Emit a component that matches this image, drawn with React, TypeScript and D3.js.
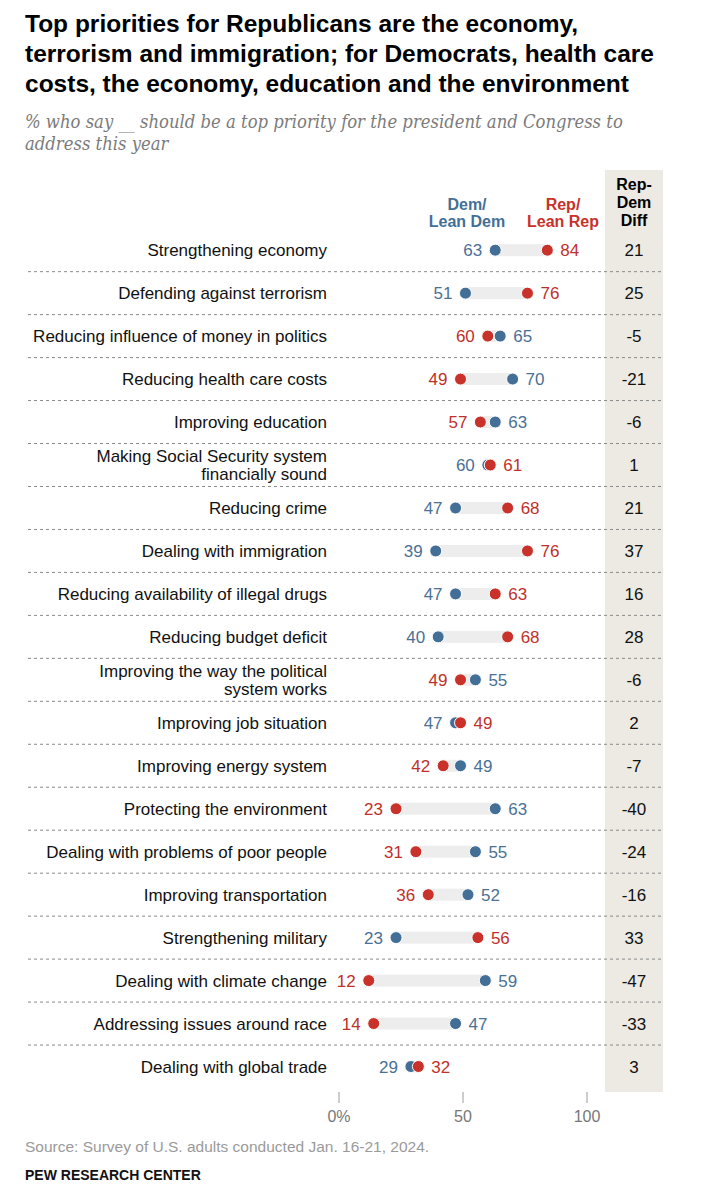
import React from "react";
import * as d3 from "d3";

const categories: string[][] = [
  ["Strengthening economy"],
  ["Defending against terrorism"],
  ["Reducing influence of money in politics"],
  ["Reducing health care costs"],
  ["Improving education"],
  ["Making Social Security system", "financially sound"],
  ["Reducing crime"],
  ["Dealing with immigration"],
  ["Reducing availability of illegal drugs"],
  ["Reducing budget deficit"],
  ["Improving the way the political", "system works"],
  ["Improving job situation"],
  ["Improving energy system"],
  ["Protecting the environment"],
  ["Dealing with problems of poor people"],
  ["Improving transportation"],
  ["Strengthening military"],
  ["Dealing with climate change"],
  ["Addressing issues around race"],
  ["Dealing with global trade"],
];
const demValues = [63, 51, 65, 70, 63, 60, 47, 39, 47, 40, 55, 47, 49, 63, 55, 52, 23, 59, 47, 29];
const repValues = [84, 76, 60, 49, 57, 61, 68, 76, 63, 68, 49, 49, 42, 23, 31, 36, 56, 12, 14, 32];
const diffValues = [21, 25, -5, -21, -6, 1, 21, 37, 16, 28, -6, 2, -7, -40, -24, -16, 33, -47, -33, 3];
const tickValues = [0, 50, 100];

const titleLines = [
  "Top priorities for Republicans are the economy,",
  "terrorism and immigration; for Democrats, health care",
  "costs, the economy, education and the environment",
];
const subtitleLines = [
  "% who say __ should be a top priority for the president and Congress to",
  "address this year",
];

const DEM = "#436f97";
const REP = "#c8322a";
const DEM_TXT = "#4a7196";
const REP_TXT = "#c0302a";
const SANS = "'Liberation Sans', Arial, sans-serif";

export default function App() {
  const W = 704;
  const H = 1200;
  const x = d3.scaleLinear().domain([0, 100]).range([339, 587]);
  const idx = categories.map((_, i) => String(i));
  const y = d3.scaleBand<string>().domain(idx).range([228.7, 1088]).padding(0);
  const bw = y.bandwidth();
  const r = 6;
  const labelGap = 13;

  return (
    <div style={{ position: "absolute", left: 0, top: 0 }}>
      <svg width={W} height={H} style={{ display: "block", background: "#fff" }}>
        {/* title */}
        <g fontFamily={SANS} fontWeight="bold" fontSize={24.5} fill="#000">
          {titleLines.map((t, i) => (
            <text key={i} x={25} y={32 + i * 30}>{t}</text>
          ))}
        </g>
        <g fontFamily="'DejaVu Serif Condensed', 'DejaVu Serif', serif" fontStyle="italic" fontSize={18.3} fill="#7b7b7b">
          {subtitleLines.map((t, i) => (
            <text key={i} x={25} y={128 + i * 22}>{t}</text>
          ))}
        </g>

        {/* diff column background */}
        <rect x={605} y={170} width={58} height={922} fill="#eceae2" />

        {/* headers */}
        <g fontFamily={SANS} fontWeight="bold" fontSize={16} textAnchor="middle">
          <text x={467} y={210} fill={DEM}>Dem/</text>
          <text x={467} y={227} fill={DEM}>Lean Dem</text>
          <text x={563} y={210} fill={REP}>Rep/</text>
          <text x={563} y={227} fill={REP}>Lean Rep</text>
          <text x={634} y={190} fill="#000">Rep-</text>
          <text x={634} y={208} fill="#000">Dem</text>
          <text x={634} y={226} fill="#000">Diff</text>
        </g>

        {/* separators */}
        {idx.slice(1).map((k) => (
          <line
            key={"sep" + k}
            x1={28}
            x2={663}
            y1={y(k)!}
            y2={y(k)!}
            stroke="#8a8a8a"
            strokeWidth={1}
            strokeDasharray="3,3"
          />
        ))}

        {/* rows */}
        {idx.map((k, i) => {
          const cy = y(k)! + bw / 2;
          const d = demValues[i];
          const rp = repValues[i];
          const lo = Math.min(d, rp);
          const hi = Math.max(d, rp);
          const demLeft = d <= rp;
          const lines = categories[i];
          return (
            <g key={"row" + k}>
              <g fontFamily={SANS} fontSize={17} fill="#111" textAnchor="end">
                {lines.map((ln, j) => (
                  <text key={j} x={327} y={cy + 6 + (j - (lines.length - 1) / 2) * 17.5}>{ln}</text>
                ))}
              </g>
              <rect x={x(lo)} y={cy - 6} width={x(hi) - x(lo)} height={12} fill="#ededed" />
              <circle cx={x(d)} cy={cy} r={r} fill={DEM} stroke="#fff" strokeWidth={1} />
              <circle cx={x(rp)} cy={cy} r={r} fill={REP} stroke="#fff" strokeWidth={1} />
              <g fontFamily={SANS} fontSize={17}>
                <text
                  x={demLeft ? x(d) - labelGap : x(d) + labelGap}
                  y={cy + 6}
                  textAnchor={demLeft ? "end" : "start"}
                  fill={DEM_TXT}
                >{d}</text>
                <text
                  x={demLeft ? x(rp) + labelGap : x(rp) - labelGap}
                  y={cy + 6}
                  textAnchor={demLeft ? "start" : "end"}
                  fill={REP_TXT}
                >{rp}</text>
              </g>
              <text x={634} y={cy + 6} textAnchor="middle" fontFamily={SANS} fontSize={17} fill="#111">
                {diffValues[i]}
              </text>
            </g>
          );
        })}

        {/* axis */}
        {tickValues.map((t) => (
          <g key={"tick" + t}>
            <line x1={x(t)} x2={x(t)} y1={1092} y2={1103} stroke="#9a9a9a" strokeWidth={1} />
            <text x={x(t)} y={1122} textAnchor="middle" fontFamily={SANS} fontSize={16} fill="#777">
              {t === 0 ? "0%" : String(t)}
            </text>
          </g>
        ))}

        {/* footer */}
        <text x={25} y={1152} fontFamily={SANS} fontSize={15.5} fill="#9a9a9a">
          Source: Survey of U.S. adults conducted Jan. 16-21, 2024.
        </text>
        <text x={25} y={1180} fontFamily={SANS} fontSize={14} fontWeight="bold" fill="#111">
          PEW RESEARCH CENTER
        </text>
      </svg>
    </div>
  );
}
